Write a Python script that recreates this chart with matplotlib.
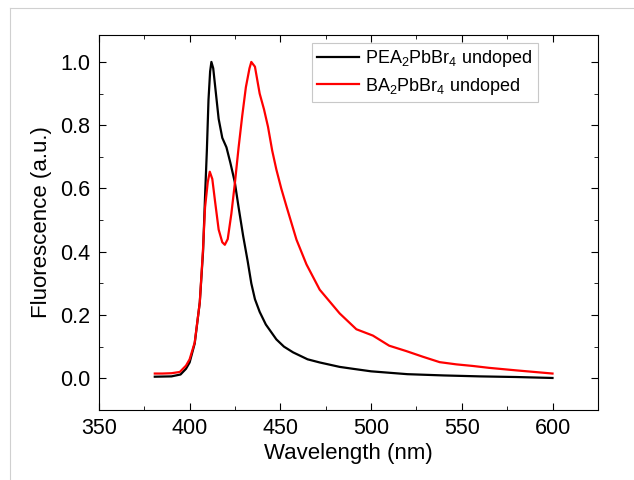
import numpy as np
import matplotlib.pyplot as plt
from matplotlib.lines import Line2D
from matplotlib.ticker import MultipleLocator

plt.rcParams['font.family'] = ['Liberation Sans', 'DejaVu Sans']
plt.rcParams['mathtext.fontset'] = 'custom'
plt.rcParams['mathtext.rm'] = 'Liberation Sans'
plt.rcParams['mathtext.it'] = 'Liberation Sans:italic'

# PEA2PbBr4 undoped (black)
wl_pea = [380.8, 390, 395, 398, 400, 402.8, 405.6, 407.4, 408.5, 409.5, 410.4, 411.3,
          412, 413, 414.5, 416, 418, 420.3, 422.5, 424.9, 427, 429.5, 432, 434, 436,
          438.6, 442, 447.8, 452, 457, 465, 471.7, 482.7, 490, 500, 520, 540, 560,
          580, 600]
fl_pea = [0.005, 0.006, 0.012, 0.03, 0.05, 0.11, 0.24, 0.40, 0.575, 0.72, 0.88, 0.97,
          1.0, 0.98, 0.9, 0.82, 0.76, 0.73, 0.68, 0.62, 0.54, 0.45, 0.37, 0.30, 0.25,
          0.21, 0.17, 0.123, 0.10, 0.082, 0.06, 0.05, 0.036, 0.03, 0.022, 0.013, 0.009,
          0.006, 0.004, 0.001]

# BA2PbBr4 undoped (red)
wl_ba = [380.8, 385, 390, 394.6, 398, 400, 402.8, 405.6, 407.4, 408.5, 410, 411.1,
         412.5, 414, 416, 418, 419.4, 421, 423, 425, 427, 429, 431, 433, 434, 436,
         438.6, 441, 443.2, 445.5, 447.8, 450.5, 453.4, 458.9, 464.4, 471.7, 482.7,
         491.9, 501, 510, 519.4, 528.6, 537.8, 547, 556, 565, 580, 590, 600]
fl_ba = [0.015, 0.015, 0.016, 0.02, 0.04, 0.06, 0.113, 0.24, 0.41, 0.54, 0.62, 0.653,
         0.63, 0.56, 0.47, 0.43, 0.422, 0.44, 0.52, 0.62, 0.73, 0.83, 0.92, 0.98, 1.0,
         0.985, 0.90, 0.85, 0.795, 0.72, 0.66, 0.60, 0.543, 0.438, 0.36, 0.28, 0.205,
         0.155, 0.135, 0.103, 0.086, 0.068, 0.051, 0.044, 0.039, 0.033, 0.025, 0.02,
         0.015]

fig = plt.figure(figsize=(6.34, 4.8), dpi=100)
ax = fig.add_axes([0.156, 0.146, 0.787, 0.781])

ax.plot(wl_pea, fl_pea, color='black', lw=1.6, label=r'PEA$_2$PbBr$_4$ undoped')
ax.plot(wl_ba, fl_ba, color='red', lw=1.6, label=r'BA$_2$PbBr$_4$ undoped')

ax.set_xlim(350, 625)
ax.set_ylim(-0.1, 1.085)
ax.xaxis.set_major_locator(MultipleLocator(50))
ax.xaxis.set_minor_locator(MultipleLocator(25))
ax.yaxis.set_major_locator(MultipleLocator(0.2))
ax.yaxis.set_minor_locator(MultipleLocator(0.1))
ax.tick_params(which='both', direction='in', top=True, right=True, labelsize=15.5)
ax.tick_params(which='major', length=5)
ax.tick_params(which='minor', length=3)
ax.tick_params(axis='x', pad=6)
ax.tick_params(axis='y', pad=6)
ax.set_xlabel('Wavelength (nm)', fontsize=16, labelpad=3)
ax.set_ylabel('Fluorescence (a.u.)', fontsize=16, labelpad=6)

leg = ax.legend(loc='upper right', bbox_to_anchor=(0.880, 0.979), borderaxespad=0,
                fontsize=13, fancybox=False, edgecolor='#c8c8c8', framealpha=1,
                handlelength=2.3, handletextpad=0.35, borderpad=0.3,
                labelspacing=0.35)
leg.get_frame().set_linewidth(0.8)

# faint page frame on left and top
fig.add_artist(Line2D([0.016, 0.016], [0, 0.983], color='#d0d0d0', lw=0.8))
fig.add_artist(Line2D([0.016, 1.0], [0.983, 0.983], color='#d0d0d0', lw=0.8))

plt.savefig('out.png')
